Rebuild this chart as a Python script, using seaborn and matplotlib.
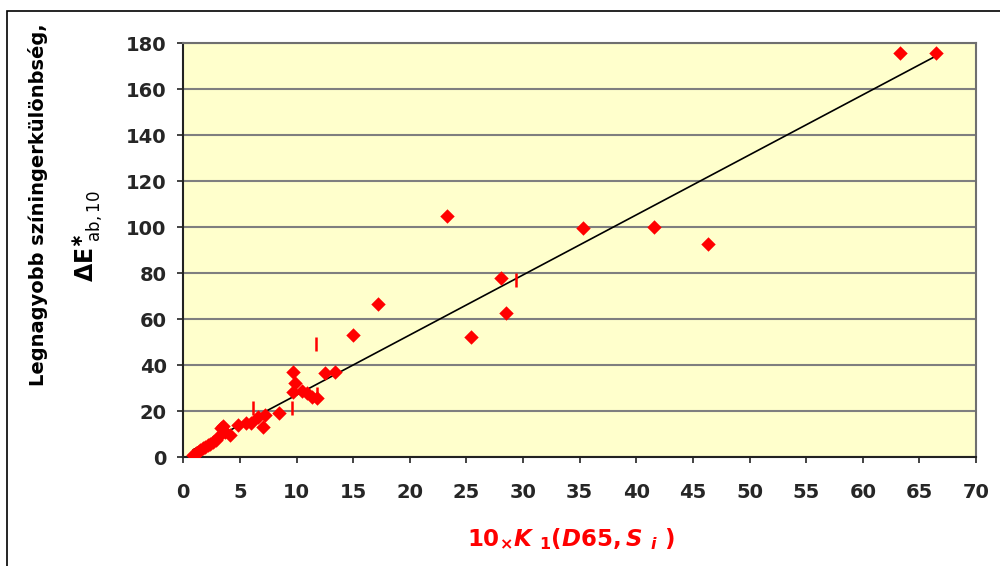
import numpy as np
import pandas as pd
import matplotlib.pyplot as plt
from matplotlib.patches import Rectangle
import seaborn as sns

# ---------------------------------------------------------------------------
# data
# ---------------------------------------------------------------------------
k1_x10 = [0.86, 1.1, 1.3, 1.5, 1.74, 1.95, 2.18, 2.4, 2.62, 2.85, 3.07, 3.36,
          3.5, 3.66, 4.1, 4.83, 5.57, 5.95, 6.63, 7.04, 7.22, 8.48, 9.72,
          9.87, 9.72, 10.46, 10.9, 11.34, 11.78, 12.52, 13.4, 15.02, 17.17,
          23.32, 25.42, 28.07, 28.48, 35.3, 41.55, 46.29, 63.3, 66.5]
de_max = [1.0, 2.0, 2.4, 3.0, 3.9, 4.6, 5.3, 5.8, 6.8, 7.6, 9.0, 12.6,
          13.5, 11.1, 9.7, 14.0, 14.8, 15.0, 17.7, 13.3, 18.4, 19.1, 28.5,
          32.2, 37.2, 29.0, 27.8, 26.3, 25.7, 36.8, 37.2, 53.2, 66.8,
          105.0, 52.2, 78.1, 62.6, 99.7, 100.0, 92.7, 175.7, 175.7]

# second series drawn with short vertical dashes
dash_x = [29.36, 11.72, 11.84, 9.58, 6.18]
dash_y = [77.2, 49.3, 27.5, 21.6, 21.3]

# linear trendline (slope, intercept)
trend_slope = 2.61
trend_icept = 1.0

x_ticks = list(range(0, 71, 5))
y_ticks = list(range(0, 181, 20))

df = pd.DataFrame({"x": k1_x10, "y": de_max})
dash = pd.DataFrame({"x": dash_x, "y": dash_y})
tx = np.array([df["x"].min(), df["x"].max()])
trend = pd.DataFrame({"x": tx, "y": trend_slope * tx + trend_icept})

# ---------------------------------------------------------------------------
# plot
# ---------------------------------------------------------------------------
sns.set_theme(style="ticks")
plt.rcParams["font.family"] = ["DejaVu Sans"]
plt.rcParams["mathtext.fontset"] = "custom"
plt.rcParams["mathtext.rm"] = "DejaVu Sans:bold"
plt.rcParams["mathtext.bf"] = "DejaVu Sans:bold"
plt.rcParams["mathtext.it"] = "DejaVu Sans:italic:bold"
plt.rcParams["mathtext.sf"] = "DejaVu Sans"

fig = plt.figure(figsize=(10, 5.66), dpi=100)
ax = fig.add_axes([0.1833, 0.1920, 0.9760 - 0.1833, 0.9235 - 0.1920])
ax.set_facecolor("#FFFFCC")

sns.lineplot(data=trend, x="x", y="y", ax=ax, color="black", linewidth=1.2,
             zorder=3)
sns.scatterplot(data=df, x="x", y="y", ax=ax, marker="D", s=54,
                color="#FF0000", linewidth=0, zorder=4)
sns.scatterplot(data=dash, x="x", y="y", ax=ax, marker="|", s=90,
                color="#FF0000", linewidth=1.8, zorder=4)

ax.set_xlim(0, 70)
ax.set_ylim(0, 180)
ax.set_xticks(x_ticks)
ax.set_yticks(y_ticks)
ax.yaxis.grid(True, color="#7F7F7F", linewidth=1.5)
ax.xaxis.grid(False)
ax.set_axisbelow(True)

for s in ["left", "bottom"]:
    ax.spines[s].set_color("#222222")
    ax.spines[s].set_linewidth(1.5)
for s in ["top", "right"]:
    ax.spines[s].set_color("#6F6F6F")
    ax.spines[s].set_linewidth(1.5)
    ax.spines[s].set_visible(True)

ax.tick_params(axis="both", direction="out", length=4.5, width=1.2,
               color="#222222", labelsize=14)
ax.tick_params(axis="y", pad=7.5)
ax.tick_params(axis="x", pad=14)
for lab in ax.get_xticklabels() + ax.get_yticklabels():
    lab.set_fontweight("bold")
ax.set_xlabel("")
ax.set_ylabel("")

# axis titles
fig.text(0.038, 1 - 205 / 566, "Legnagyobb színingerkülönbség,",
         rotation=90, ha="center", va="center", fontsize=14,
         fontweight="bold", color="black")
fig.text(0.087, 1 - 236 / 566, r"ΔE$^{\ast}_{\ \mathsf{ab,10}}$",
         rotation=90, ha="center", va="center", fontsize=17,
         fontweight="bold", color="black")
fig.text(0.571, 1 - 539 / 566,
         r"$\mathbf{10}_{\times}\mathit{K}\ _{\mathbf{1}}"
         r"\mathit{(D65,S}\ _{\mathit{i}}\ \mathit{)}$",
         ha="center", va="center", fontsize=16.5, color="#FF0000")

# outer chart frame (clipped on the right and bottom)
fig.patches.append(Rectangle((0.007, -0.1), 1.2, 1.081, transform=fig.transFigure,
                             fill=False, edgecolor="black", linewidth=1.2))

fig.savefig("out.png", dpi=100)
plt.close(fig)
